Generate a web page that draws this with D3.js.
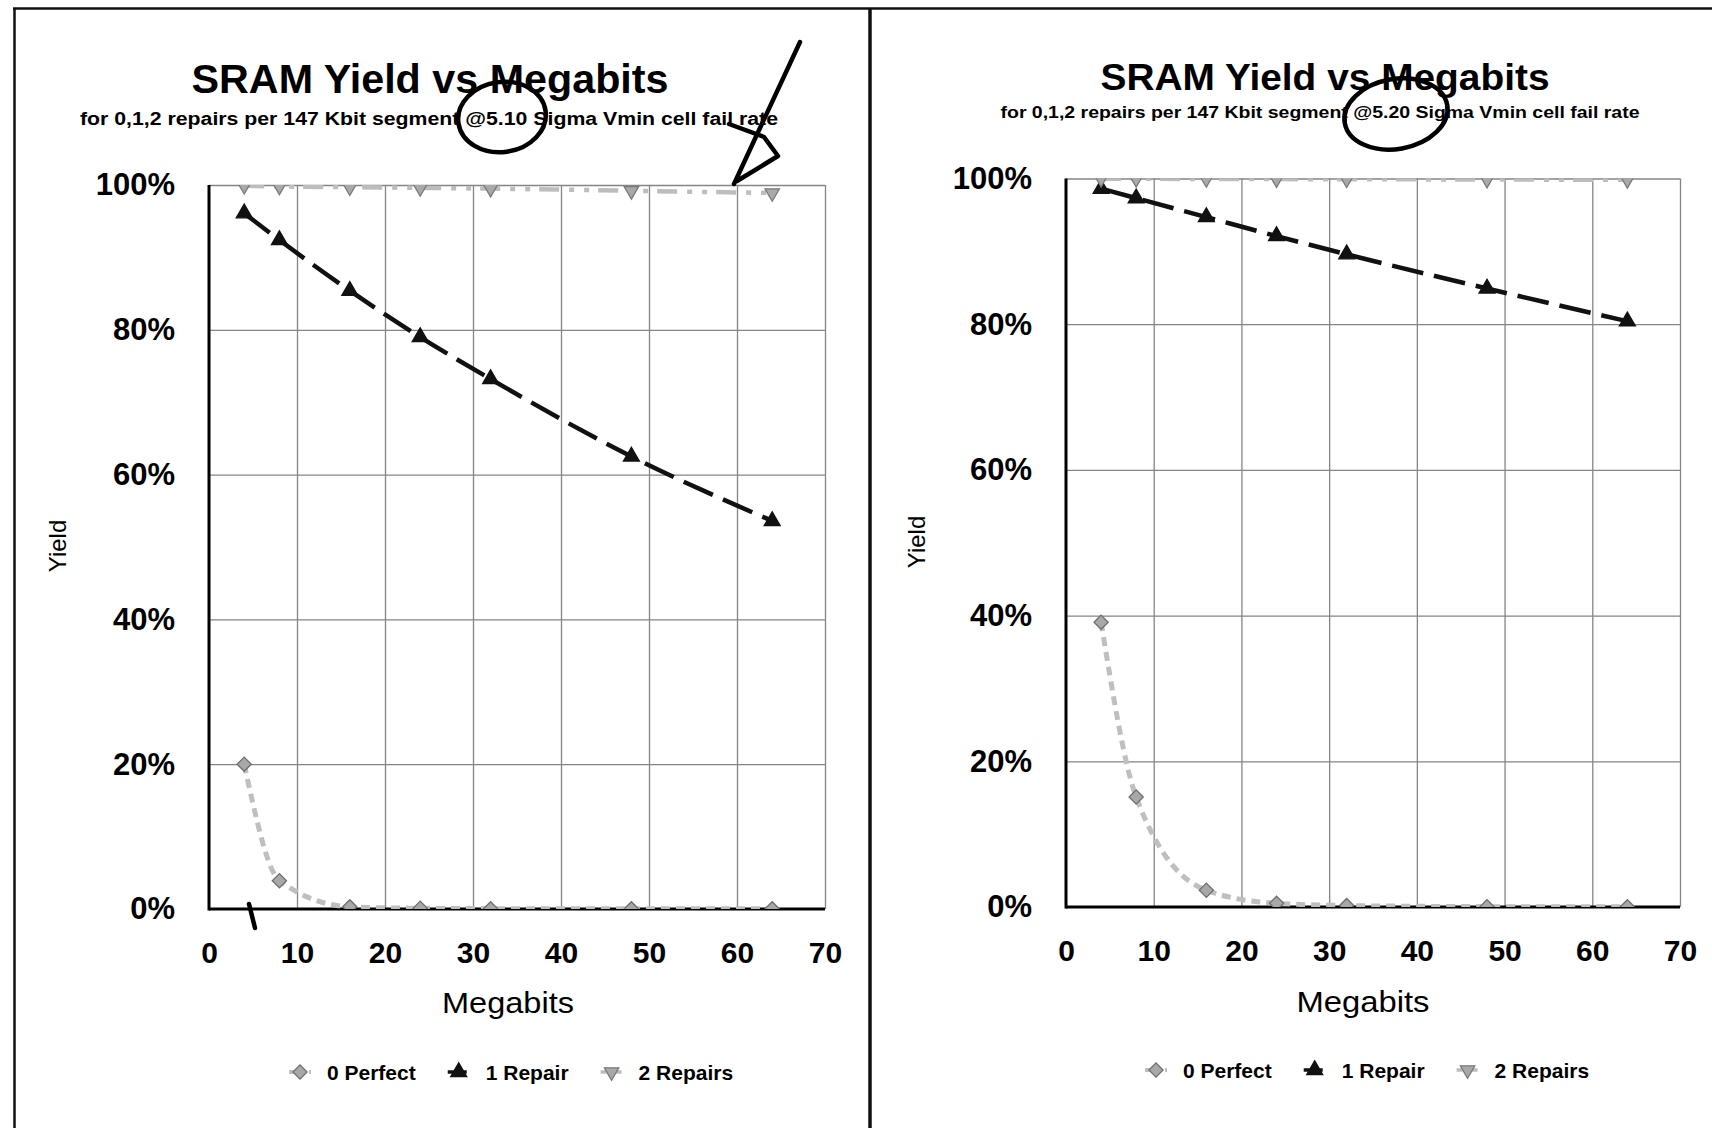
<!DOCTYPE html>
<html>
<head>
<meta charset="utf-8">
<script src="https://cdnjs.cloudflare.com/ajax/libs/d3/7.8.5/d3.min.js"></script>
<style>
    body { margin: 0; background: #fff; }
    svg { display: block; font-family: "Liberation Sans", Arial, sans-serif; }
</style>
</head>
<body>
<svg id="chart" width="1712" height="1128"></svg>
<script>
// data
var megabits = [4, 8, 16, 24, 32, 48, 64];
var seriesNames = ["0 Perfect", "1 Repair", "2 Repairs"];
var xTicks = [0, 10, 20, 30, 40, 50, 60, 70];
var yTicks = [0, 20, 40, 60, 80, 100];

// @5.10 sigma
var perfect510 = [20.0, 3.9, 0.3, 0.1, 0.05, 0.03, 0.02];
var oneRepair510 = [96.1, 92.4, 85.4, 79.0, 73.2, 62.5, 53.6];
var twoRepair510 = [99.9, 99.8, 99.7, 99.6, 99.5, 99.2, 98.9];

// @5.20 sigma
var perfect520 = [39.1, 15.1, 2.3, 0.5, 0.2, 0.05, 0.02];
var oneRepair520 = [98.6, 97.3, 94.7, 92.1, 89.6, 84.9, 80.4];
var twoRepair520 = [99.98, 99.96, 99.94, 99.92, 99.9, 99.86, 99.82];

var svg = d3.select("#chart");

// look of each series, same order as seriesNames
var styles = [
    { stroke: "#bfbfbf", width: 5, dash: "9,6", shape: "diamond", fill: "#a8a8a8", edge: "#6e6e6e", size: 100 },
    { stroke: "#111", width: 4.5, dash: "32,11", shape: "up", fill: "#111", edge: "#111", size: 110 },
    { stroke: "#bdbdbd", width: 4.5, dash: "20,10,5,10,5,9", shape: "down", fill: "#a9a9a9", edge: "#7a7a7a", size: 90 }
];

var markerPath = function(st) {
    if (st.shape == "diamond") return d3.symbol().type(d3.symbolSquare).size(st.size)();
    return d3.symbol().type(d3.symbolTriangle).size(st.size)();
};
var markerRotate = function(st) {
    if (st.shape == "diamond") return 45;
    if (st.shape == "down") return 180;
    return 0;
};

// panel frame lines
svg.append("line").attr("x1", 13).attr("x2", 1712).attr("y1", 8.5).attr("y2", 8.5)
    .attr("stroke", "#111").attr("stroke-width", 2.5);
svg.append("line").attr("x1", 14.5).attr("x2", 14.5).attr("y1", 8).attr("y2", 1128)
    .attr("stroke", "#111").attr("stroke-width", 2.5);
svg.append("line").attr("x1", 870).attr("x2", 870).attr("y1", 8).attr("y2", 1128)
    .attr("stroke", "#111").attr("stroke-width", 3.5);

var drawChart = function(cfg, idx) {
    var p = cfg.plot,
        width = p.x1 - p.x0,
        height = p.y1 - p.y0;

    var xScale = d3.scaleLinear().domain([0, 70]).range([p.x0, p.x1]),
        yScale = d3.scaleLinear().domain([0, 100]).range([p.y1, p.y0]);

    // titles
    svg.append("text")
        .attr("x", cfg.title.x).attr("y", cfg.title.y)
        .attr("text-anchor", "middle")
        .attr("font-size", cfg.title.size).attr("font-weight", "bold")
        .attr("textLength", cfg.title.len).attr("lengthAdjust", "spacingAndGlyphs")
        .text("SRAM Yield vs Megabits");
    svg.append("text")
        .attr("x", cfg.sub.x).attr("y", cfg.sub.y)
        .attr("text-anchor", "middle")
        .attr("font-size", cfg.sub.size).attr("font-weight", "bold")
        .attr("textLength", cfg.sub.len).attr("lengthAdjust", "spacingAndGlyphs")
        .text("for 0,1,2 repairs per 147 Kbit segment @" + cfg.sigma + " Sigma Vmin cell fail rate");

    // grid lines
    var gridX = svg.append("g")
        .attr("transform", "translate(0," + p.y1 + ")")
        .call(d3.axisBottom(xScale).tickValues(xTicks.slice(1)).tickSize(-height).tickFormat(""));
    var gridY = svg.append("g")
        .attr("transform", "translate(" + p.x0 + ",0)")
        .call(d3.axisLeft(yScale).tickValues(yTicks.slice(1)).tickSize(-width).tickFormat(""));
    [gridX, gridY].forEach(function(g) {
        g.select(".domain").remove();
        g.selectAll("line").attr("stroke", "#858585").attr("stroke-width", 1.3);
    });

    // tick labels
    var xAxis = svg.append("g")
        .attr("transform", "translate(0," + p.y1 + ")")
        .call(d3.axisBottom(xScale).tickValues(xTicks).tickSize(0).tickPadding(33));
    var yAxis = svg.append("g")
        .attr("transform", "translate(" + p.x0 + ",0)")
        .call(d3.axisLeft(yScale).tickValues(yTicks).tickSize(0).tickPadding(34)
            .tickFormat(function(d) { return d + "%"; }));
    xAxis.select(".domain").remove();
    yAxis.select(".domain").remove();
    xAxis.selectAll("text").attr("font-size", 30).attr("font-weight", "bold")
        .attr("font-family", "Liberation Sans, Arial, sans-serif").attr("fill", "#000");
    yAxis.selectAll("text").attr("font-size", 31).attr("font-weight", "bold")
        .attr("font-family", "Liberation Sans, Arial, sans-serif").attr("fill", "#000");

    // heavy left and bottom axis lines
    svg.append("line").attr("x1", p.x0).attr("x2", p.x0).attr("y1", p.y0).attr("y2", p.y1 + 1.5)
        .attr("stroke", "#000").attr("stroke-width", 3);
    svg.append("line").attr("x1", p.x0).attr("x2", p.x1).attr("y1", p.y1).attr("y2", p.y1)
        .attr("stroke", "#000").attr("stroke-width", 3);

    // axis titles
    svg.append("text")
        .attr("x", cfg.xlab.x).attr("y", cfg.xlab.y)
        .attr("text-anchor", "middle").attr("font-size", 30)
        .attr("textLength", cfg.xlab.len).attr("lengthAdjust", "spacingAndGlyphs")
        .text("Megabits");
    svg.append("text")
        .attr("transform", "translate(" + cfg.ylab.x + "," + cfg.ylab.y + ") rotate(-90)")
        .attr("text-anchor", "middle").attr("font-size", 24)
        .text("Yield");

    // series, clipped to the plot area
    var clipId = "clip" + idx;
    svg.append("clipPath").attr("id", clipId)
        .append("rect").attr("x", p.x0).attr("y", p.y0).attr("width", width).attr("height", height);
    var g = svg.append("g").attr("clip-path", "url(#" + clipId + ")");

    var line = d3.line()
        .x(function(d) { return xScale(d[0]); })
        .y(function(d) { return yScale(d[1]); })
        .curve(d3.curveMonotoneX);

    cfg.series.forEach(function(values, i) {
        var st = styles[i];
        var pts = megabits.map(function(m, k) { return [m, values[k]]; });
        g.append("path")
            .datum(pts)
            .attr("d", line)
            .attr("fill", "none")
            .attr("stroke", st.stroke)
            .attr("stroke-width", st.width)
            .attr("stroke-dasharray", st.dash);
        g.selectAll(".m" + i)
            .data(pts)
            .enter().append("path")
            .attr("class", "m" + i)
            .attr("d", markerPath(st))
            .attr("transform", function(d) {
                return "translate(" + xScale(d[0]) + "," + yScale(d[1]) + ") rotate(" + markerRotate(st) + ")";
            })
            .attr("fill", st.fill)
            .attr("stroke", st.edge)
            .attr("stroke-width", 1.3);
    });

    // legend
    var lx = cfg.legend.x;
    seriesNames.forEach(function(name, i) {
        var st = styles[i];
        var item = svg.append("g").attr("transform", "translate(" + lx + "," + cfg.legend.y + ")");
        item.append("line").attr("x1", -11).attr("x2", 11)
            .attr("stroke", st.stroke).attr("stroke-width", st.width - 1)
            .attr("stroke-dasharray", i == 0 ? "6,4" : (i == 1 ? "8,3" : "6,3,3,3"));
        item.append("path")
            .attr("d", markerPath(st))
            .attr("transform", "rotate(" + markerRotate(st) + ")")
            .attr("fill", st.fill).attr("stroke", st.edge).attr("stroke-width", 1.3);
        var t = item.append("text")
            .attr("x", 27).attr("y", 7.5)
            .attr("font-size", 21).attr("font-weight", "bold")
            .text(name);
        lx += 27 + t.node().getComputedTextLength() + 43;
    });
};

drawChart({
    plot: { x0: 209, x1: 825, y0: 185, y1: 909 },
    title: { x: 430, y: 93, size: 40, len: 477 },
    sub: { x: 429, y: 125, size: 17.5, len: 698 },
    xlab: { x: 508, y: 1013, len: 132 },
    ylab: { x: 66, y: 546 },
    legend: { x: 300, y: 1072 },
    sigma: "5.10",
    series: [perfect510, oneRepair510, twoRepair510]
}, 0);

drawChart({
    plot: { x0: 1066, x1: 1680, y0: 178.5, y1: 907 },
    title: { x: 1325, y: 90, size: 37, len: 449 },
    sub: { x: 1320, y: 118, size: 16.5, len: 639 },
    xlab: { x: 1363, y: 1012, len: 133 },
    ylab: { x: 925, y: 542 },
    legend: { x: 1156, y: 1070 },
    sigma: "5.20",
    series: [perfect520, oneRepair520, twoRepair520]
}, 1);

// hand-drawn pen marks on the printout
var ink = svg.append("g").attr("fill", "none").attr("stroke", "#000")
    .attr("stroke-width", 4.5).attr("stroke-linecap", "round").attr("stroke-linejoin", "round");
ink.append("ellipse").attr("cx", 502).attr("cy", 117).attr("rx", 44).attr("ry", 35)
    .attr("transform", "rotate(-8 502 117)");
ink.append("ellipse").attr("cx", 1396).attr("cy", 114).attr("rx", 52).attr("ry", 35)
    .attr("transform", "rotate(-10 1396 114)");
ink.append("path").attr("d", "M800,42 L734,184");
ink.append("path").attr("d", "M729,124 L764,137 L778,156 L737,181");
ink.append("path").attr("d", "M249,904 L255,928");
</script>
</body>
</html>
